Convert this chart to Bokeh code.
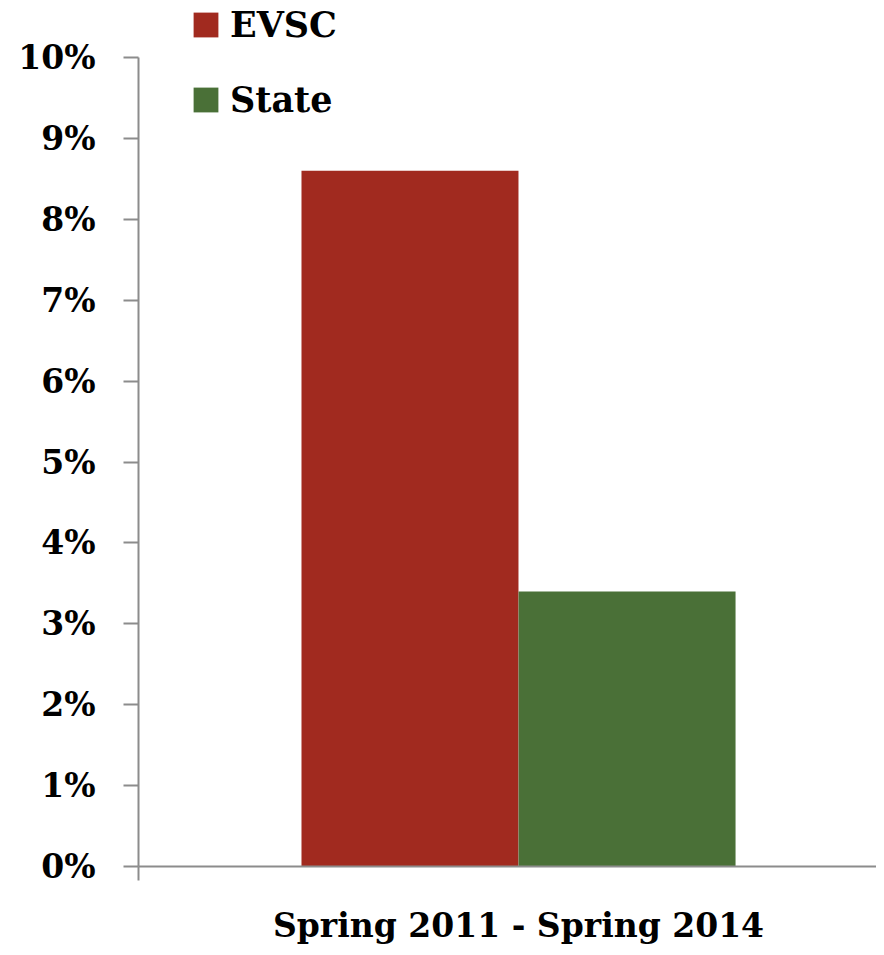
from bokeh.plotting import figure
from bokeh.models import (ColumnDataSource, Range1d, Legend, LegendItem, FixedTicker,
                          SingleIntervalTicker, NumeralTickFormatter)
from bokeh.transform import dodge
from bokeh.embed import file_html
from bokeh.resources import INLINE

# ---- data ----
categories = ["Spring 2011 - Spring 2014"]
series = ["EVSC", "State"]
evsc = [0.086]
state = [0.034]
colors = ["#A12A1F", "#4A7037"]

FONT = "DejaVu Serif"
AXIS_COLOR = "#8C8C8C"

pos = [i + 0.5 for i in range(len(categories))]
source = ColumnDataSource(data=dict(pos=pos, cat=categories, evsc=evsc, state=state))

Y_MAX = 0.10
y_end = Y_MAX * 866 / 809  # leave room above the axis for the legend

p = figure(frame_width=738, frame_height=866, output_backend="svg", toolbar_location=None,
           x_range=Range1d(0, 0.971), y_range=Range1d(0, y_end),
           min_border_left=138, min_border_right=0, min_border_top=0, min_border_bottom=80)

bw = 0.2855
r1 = p.vbar(x=dodge("pos", -0.1428, range=p.x_range), top="evsc", width=bw, source=source,
            fill_color=colors[0], line_color=None)
r2 = p.vbar(x=dodge("pos", 0.1428, range=p.x_range), top="state", width=bw, source=source,
            fill_color=colors[1], line_color=None)

p.grid.visible = False
p.outline_line_color = None
p.background_fill_color = "white"
p.border_fill_color = "white"

# y axis
ya = p.yaxis[0]
ya.bounds = (0, Y_MAX)
ya.ticker = SingleIntervalTicker(interval=0.01, num_minor_ticks=0)
ya.formatter = NumeralTickFormatter(format="0%")
ya.axis_line_color = AXIS_COLOR
ya.axis_line_width = 2
ya.major_tick_line_color = AXIS_COLOR
ya.major_tick_line_width = 2
ya.major_tick_out = 15
ya.major_tick_in = 0
ya.minor_tick_line_color = None
ya.major_label_standoff = 28
ya.major_label_text_font = FONT
ya.major_label_text_font_style = "bold"
ya.major_label_text_font_size = "33px"
ya.major_label_text_color = "black"

# x axis
xa = p.xaxis[0]
xa.ticker = FixedTicker(ticks=pos, minor_ticks=[0.0])
xa.major_label_overrides = {pp: c for pp, c in zip(pos, categories)}
xa.axis_line_color = AXIS_COLOR
xa.axis_line_width = 2
xa.major_tick_line_color = None
xa.major_tick_out = 0
xa.major_tick_in = 0
xa.minor_tick_line_color = AXIS_COLOR
xa.minor_tick_line_width = 2
xa.minor_tick_out = 14
xa.minor_tick_in = 0
xa.major_label_standoff = 25
xa.major_label_text_font = FONT
xa.major_label_text_font_style = "bold"
xa.major_label_text_font_size = "33px"
xa.major_label_text_color = "black"

legend = Legend(items=[LegendItem(label=series[0], renderers=[r1]),
                       LegendItem(label=series[1], renderers=[r2])],
                location=(52, 746), orientation="vertical",
                padding=0, margin=0, spacing=34,
                glyph_width=31, glyph_height=31, label_height=40, label_standoff=9,
                label_text_font=FONT, label_text_font_style="bold",
                label_text_font_size="35px", label_text_color="black",
                border_line_alpha=0, background_fill_alpha=0)
p.add_layout(legend, "center")

open("out.html", "w").write(file_html(p, INLINE))
